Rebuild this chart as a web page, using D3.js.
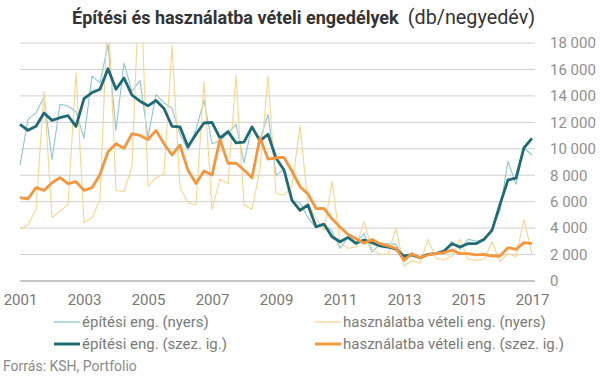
<!DOCTYPE html>
<html>
<head>
<meta charset="utf-8">
<script src="https://cdn.jsdelivr.net/npm/d3@7"></script>
<style>
  html, body { margin: 0; padding: 0; background: #fff; }
  svg { display: block; font-family: Roboto, "Noto Sans", sans-serif; }
</style>
</head>
<body>
<svg id="chart" width="605" height="378"></svg>
<script>
// Quarterly data, 2001 Q1 – 2017 Q1
const quarters = d3.range(65);
const yearLabels = ["2001", "2003", "2005", "2007", "2009", "2011", "2013", "2015", "2017"];
const yTicks = [0, 2000, 4000, 6000, 8000, 10000, 12000, 14000, 16000, 18000];

const epitesiNyers = [8770, 12220, 12730, 13910, 9200, 13360, 13230, 12800, 10790, 15500, 14990, 17890, 11390, 16460, 14360, 15170,
  10840, 14110, 13480, 13050, 11090, 9880, 11470, 13660, 10380, 10580, 11200, 11840, 8950, 11720, 10710, 12600,
  8010, 8440, 6050, 5920, 4790, 4030, 4280, 3780, 2470, 3280, 2900, 3580, 2190, 2770, 2820, 2770,
  1700, 2020, 1760, 2000, 2140, 2270, 2970, 2390, 3150, 3020, 3050, 4030, 5290, 9070, 7310, 10080, 9530];

const hasznNyers = [3960, 4230, 5420, 14360, 4790, 5290, 5800, 15750, 4410, 4790, 6170, 21000, 6850, 6750, 8690, 24000,
  7180, 7810, 8110, 17840, 7060, 5920, 5750, 15070, 5420, 7690, 7360, 15570, 5750, 5420, 8440, 15500,
  6600, 6500, 7180, 11720, 5800, 4790, 3830, 7560, 2900, 2470, 2570, 4490, 2390, 2020, 2020, 3980,
  1130, 1560, 1340, 3150, 1710, 1590, 1890, 3150, 1640, 1560, 1640, 2970, 1460, 2070, 1840, 4660, 2020];

const epitesiSzez = [11850, 11400, 11700, 12700, 12150, 12350, 12500, 11700, 13800, 14250, 14500, 16050, 14500, 15350, 14050, 13600,
  13250, 13650, 13050, 11700, 11650, 10150, 11100, 11950, 12000, 10800, 11300, 10450, 10500, 11650, 10600, 11100,
  9300, 8400, 6100, 5350, 5750, 4100, 4300, 3350, 2970, 3300, 2850, 3100, 2900, 2650, 2570, 2400,
  1890, 1970, 1760, 2020, 2070, 2270, 2820, 2570, 2820, 2820, 3150, 3830, 5800, 7650, 7780, 10080, 10790];

const hasznSzez = [6300, 6220, 7060, 6850, 7430, 7810, 7360, 7510, 6850, 7060, 8060, 9780, 10380, 10030, 11140, 11010,
  10700, 11390, 10380, 9530, 10280, 8370, 7380, 8320, 8010, 10710, 8900, 8920, 8390, 7810, 10840, 9220,
  9320, 9350, 8300, 7130, 6580, 5480, 5490, 4700, 4080, 3520, 3200, 2860, 3140, 2820, 2650, 2470,
  1560, 2070, 1760, 1970, 2090, 2140, 2340, 2070, 2070, 1970, 2020, 1890, 1890, 2520, 2390, 2900, 2820];

const seriesNames = ["építési eng. (nyers)", "használatba vételi eng. (nyers)", "építési eng. (szez. ig.)", "használatba vételi eng. (szez. ig.)"];

const svg = d3.select("#chart");
const x = d3.scaleLinear().domain([0, 64]).range([20, 532]);
const y = d3.scaleLinear().domain([0, 18000]).range([281, 43]);
const gridRight = 535;

const fmt = d3.formatLocale({ decimal: ",", thousands: " ", grouping: [3], currency: ["", ""] }).format(",");

// title
const title = svg.append("text").attr("x", 72).attr("y", 24).attr("text-anchor", "start")
  .attr("fill", "#333");
title.append("tspan").attr("font-weight", "bold").style("font-size", "18px").text("Építési és használatba vételi engedélyek");
title.append("tspan").attr("font-weight", "normal").style("font-size", "19.8px").attr("dx", 9).text("(db/negyedév)");

// grid
svg.append("g").selectAll("line").data(yTicks.filter(d => d > 0)).join("line")
  .attr("x1", 20).attr("x2", gridRight).attr("y1", d => y(d)).attr("y2", d => y(d))
  .attr("stroke", "#cfcfcf").attr("stroke-width", 1);
svg.append("line").attr("x1", 20).attr("x2", gridRight).attr("y1", y(0)).attr("y2", y(0))
  .attr("stroke", "#8c8c8c").attr("stroke-width", 1.2);

// y axis labels (right)
const yAxis = d3.axisRight(y).tickValues(yTicks).tickFormat(fmt).tickSize(0).tickPadding(0);
const gy = svg.append("g").attr("transform", "translate(550,0)").call(yAxis);
gy.select(".domain").remove();
gy.selectAll("text").attr("fill", "#8f8f8f").style("font-size", "15px").style("font-family", "Roboto, sans-serif");

// x axis labels
const xAxis = d3.axisBottom(x).tickValues(d3.range(0, 65, 8)).tickFormat((d, i) => yearLabels[i]).tickSize(0).tickPadding(0);
const gx = svg.append("g").attr("transform", "translate(0,294)").call(xAxis);
gx.select(".domain").remove();
gx.selectAll("text").attr("fill", "#777").style("font-size", "15px").style("font-family", "Roboto, sans-serif");

// clip
svg.append("clipPath").attr("id", "plotclip").append("rect")
  .attr("x", 0).attr("y", y(18000)).attr("width", 605).attr("height", y(0) - y(18000) + 5);

const line = d3.line().x((d, i) => x(i)).y(d => y(d));
const gl = svg.append("g").attr("clip-path", "url(#plotclip)");
const specs = [
  { data: epitesiNyers, color: "#8fc6d1", w: 1.1 },
  { data: hasznNyers, color: "#fbd48a", w: 1.1 },
  { data: epitesiSzez, color: "#1f6b74", w: 2.8 },
  { data: hasznSzez, color: "#f5963c", w: 2.8 }
];
specs.forEach(s => {
  gl.append("path").datum(s.data).attr("d", line).attr("fill", "none")
    .attr("stroke", s.color).attr("stroke-width", s.w).attr("stroke-linejoin", "round");
});

// legend
const legendPos = [[54, 322], [315, 322], [54, 344], [315, 344]];
specs.forEach((s, i) => {
  const [lx, ly] = legendPos[i];
  svg.append("line").attr("x1", lx).attr("x2", lx + 26).attr("y1", ly).attr("y2", ly)
    .attr("stroke", s.color).attr("stroke-width", s.w < 2 ? 1.3 : 3);
  svg.append("text").attr("x", lx + 28).attr("y", ly + 5).attr("fill", "#7a7a7a")
    .style("font-size", "15px").text(seriesNames[i]);
});

// source
svg.append("text").attr("x", 3).attr("y", 371).attr("fill", "#8a8a8a").style("font-size", "14px").text("Forrás: KSH, Portfolio");
</script>
</body>
</html>
